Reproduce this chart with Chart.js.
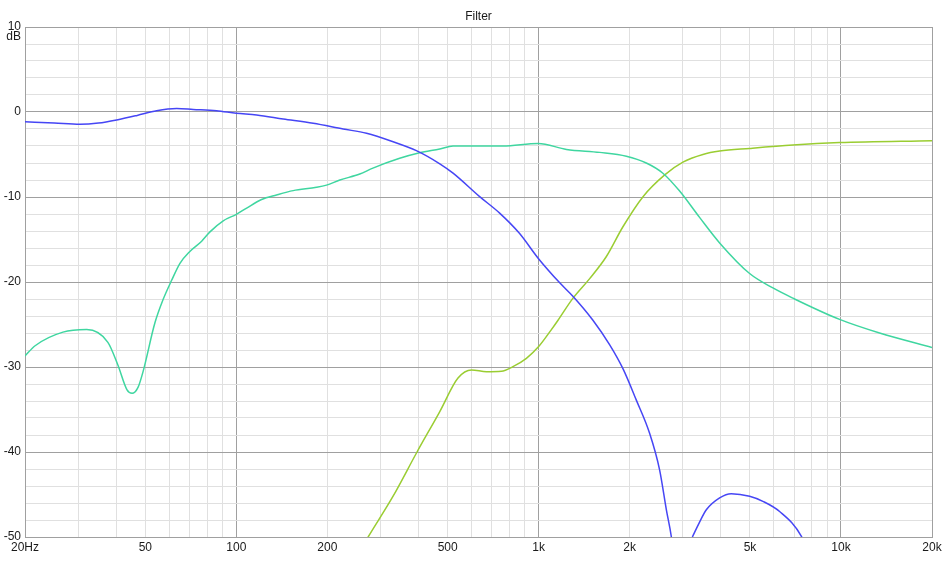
<!DOCTYPE html>
<html>
<head>
<meta charset="utf-8">
<script src="https://cdn.jsdelivr.net/npm/chart.js@4"></script>
<style>
	html, body { margin: 0; padding: 0; background: #fff; }
	#wrap { width: 947px; height: 580px; }
</style>
</head>
<body>
<div id="wrap"><canvas id="myChart" width="947" height="580"></canvas></div>
<script>
// woofer / low pass (blue); null = the deep notch below the plot
const lowFreq = [20, 25, 30.4, 35, 40.6, 47, 54.5, 63.5, 72, 86, 100, 116.7, 142.9, 179.6, 225.6, 269.6, 330, 394, 471, 521, 638, 743, 865, 996, 1174, 1300, 1512, 1718, 1900, 2104, 2328, 2512, 2645, 2748, 2790, 2950, 3224, 3400, 3586, 3968, 4336, 4986, 5516, 6265, 7390, 7700]
const lowDb = [-1.15, -1.3, -1.45, -1.3, -0.9, -0.4, 0.15, 0.4, 0.3, 0.15, -0.15, -0.35, -0.82, -1.33, -2.0, -2.5, -3.5, -4.55, -6.1, -7.2, -9.96, -11.9, -14.3, -17.2, -20.1, -21.7, -24.5, -27.4, -30.2, -33.9, -37.8, -42.1, -46.8, -50, -52, null, -50, -48.3, -46.8, -45.4, -44.9, -45.2, -45.8, -47.0, -49.9, -51.5]

// midrange / band pass (teal)
const midFreq = [20, 21.6, 26.7, 32, 37.6, 40.6, 43.5, 45.2, 47.3, 49.1, 53.8, 57.2, 61.1, 65.1, 70.2, 76.8, 81.8, 90.5, 100, 108.2, 121.2, 135.8, 154.2, 184.2, 198.8, 220, 256, 283, 347, 404, 471, 521, 762, 996, 1236, 1592, 1950, 2270, 2576, 2926, 3406, 3968, 4986, 5954, 6934, 9893, 13416, 20000]
const midDb = [-28.7, -27.5, -25.9, -25.6, -27.1, -29.8, -32.7, -33.1, -32.4, -30.6, -24.8, -22.1, -19.8, -17.8, -16.4, -15.2, -14.1, -12.8, -12.04, -11.3, -10.3, -9.76, -9.25, -8.86, -8.6, -8.0, -7.3, -6.6, -5.45, -4.8, -4.35, -4.0, -4.0, -3.7, -4.4, -4.75, -5.2, -6.0, -7.2, -9.3, -12.4, -15.4, -19.0, -20.7, -21.9, -24.4, -26.0, -27.7]

// tweeter / high pass (green)
const highFreq = [240, 272.9, 330, 396, 470, 541, 600, 672, 753, 822, 911, 1000, 1102, 1159, 1299, 1475, 1675, 1900, 2214, 2612, 3000, 3494, 3968, 4986, 6934, 9893, 20000]
const highDb = [-53.4, -50, -45.2, -40, -35.3, -31.3, -30.35, -30.55, -30.5, -29.96, -28.98, -27.6, -25.6, -24.5, -21.9, -19.6, -17.0, -13.5, -9.96, -7.4, -5.9, -5.0, -4.6, -4.28, -3.88, -3.6, -3.37]

const xTicks = [20, 30, 40, 50, 60, 70, 80, 90, 100, 200, 300, 400, 500, 600, 700, 800, 900, 1000, 2000, 3000, 4000, 5000, 6000, 7000, 8000, 9000, 10000, 20000]
const xLabels = { 20: '20Hz', 50: '50', 100: '100', 200: '200', 500: '500', 1000: '1k', 2000: '2k', 5000: '5k', 10000: '10k', 20000: '20k' }

const toPoints = (fs, ds) => fs.map((f, i) => ({ x: f, y: ds[i] }))

function getChart() {
	const context = document.getElementById('myChart')
	const data = {
		datasets: [
			{
				label: 'Low',
				data: toPoints(lowFreq, lowDb),
				borderColor: '#4646f5',
				borderWidth: 1.5,
			},
			{
				label: 'Mid',
				data: toPoints(midFreq, midDb),
				borderColor: '#3fd6a0',
				borderWidth: 1.5,
			},
			{
				label: 'High',
				data: toPoints(highFreq, highDb),
				borderColor: '#9acd32',
				borderWidth: 1.5,
			}
		]
	}
	const majorX = v => v === 100 || v === 1000 || v === 10000 || v === 20 || v === 20000
	const dbLabel = {
		id: 'dbLabel',
		afterDraw(chart) {
			const ctx = chart.ctx
			ctx.save()
			ctx.font = '12px "Liberation Sans", Arial, sans-serif'
			ctx.fillStyle = '#1a1a1a'
			ctx.textAlign = 'right'
			ctx.textBaseline = 'middle'
			ctx.fillText('dB', chart.chartArea.left - 4, chart.chartArea.top + 10)
			ctx.restore()
		}
	}
	const config = {
		type: 'line',
		data: data,
		options: {
			responsive: false,
			animation: false,
			spanGaps: false,
			layout: { padding: { right: 15 } },
			elements: {
				point: { radius: 0 },
				line: { cubicInterpolationMode: 'monotone' }
			},
			plugins: {
				legend: { display: false },
				tooltip: { enabled: false },
				title: {
					display: true,
					text: 'Filter',
					fullSize: false,
					color: '#1a1a1a',
					font: { family: '"Liberation Sans", Arial, sans-serif', size: 12, weight: 'normal' },
					padding: { top: 9, bottom: 3.6 }
				}
			},
			scales: {
				x: {
					type: 'logarithmic',
					min: 20,
					max: 20000,
					afterBuildTicks: scale => { scale.ticks = xTicks.map(v => ({ value: v })) },
					afterFit: scale => { scale.height = 43 },
					grid: {
						drawTicks: false,
						color: c => majorX(c.tick.value) ? '#a0a0a0' : '#e0e0e0'
					},
					border: { color: '#a0a0a0' },
					ticks: {
						autoSkip: false,
						maxRotation: 0,
						padding: 3,
						color: '#1a1a1a',
						font: { family: '"Liberation Sans", Arial, sans-serif', size: 12 },
						callback: v => xLabels[v] || ''
					}
				},
				y: {
					min: -50,
					max: 10,
					afterFit: scale => { scale.width = 25 },
					grid: {
						drawTicks: false,
						color: c => c.tick.value % 10 === 0 ? '#a0a0a0' : '#e0e0e0'
					},
					border: { color: '#a0a0a0' },
					ticks: {
						stepSize: 2,
						autoSkip: false,
						padding: 4,
						color: '#1a1a1a',
						font: { family: '"Liberation Sans", Arial, sans-serif', size: 12 },
						callback: v => v % 10 === 0 ? String(v) : ''
					}
				}
			}
		},
		plugins: [dbLabel]
	}
	const myChart = new Chart(context, config)
}
getChart()
</script>
</body>
</html>
